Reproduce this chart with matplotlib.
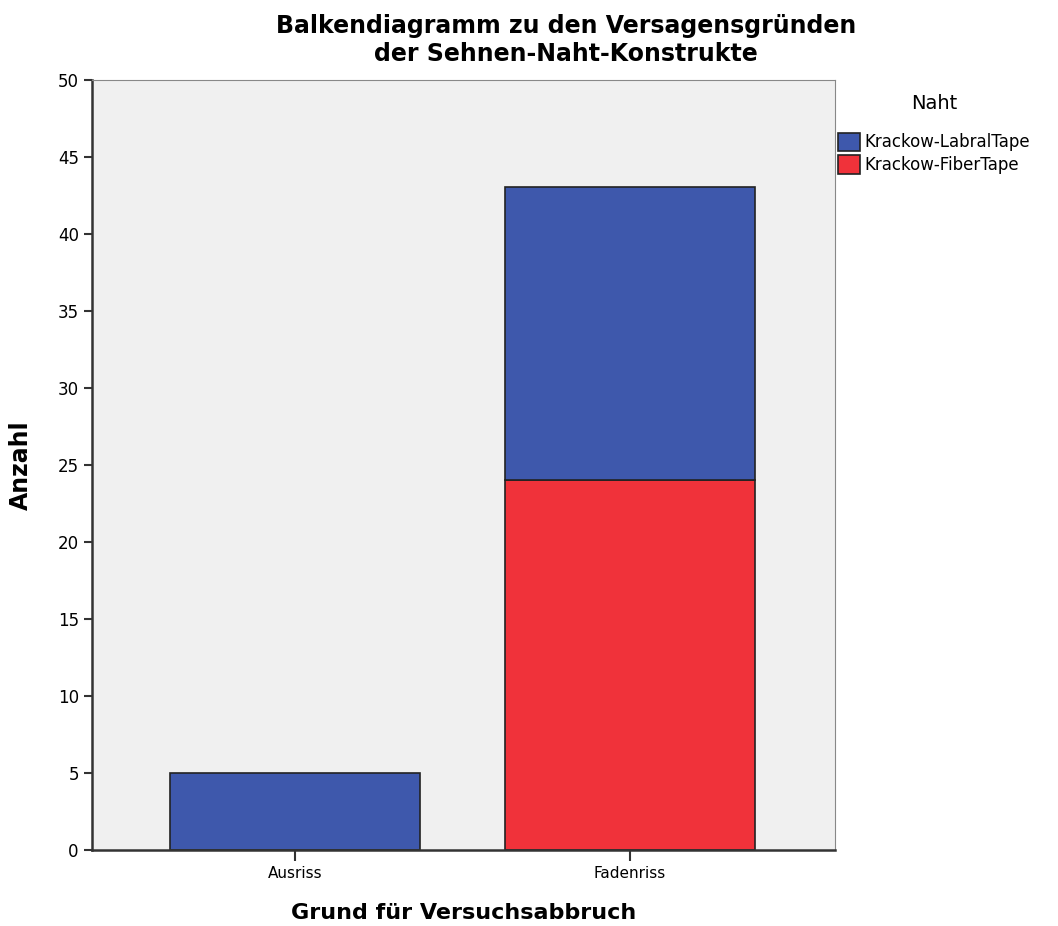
import matplotlib.pyplot as plt

plt.rcParams['font.family'] = ['DejaVu Sans']

# Daten
gruende = ['Ausriss', 'Fadenriss']
labral_tape = [5, 19]
fiber_tape = [0, 24]

fig = plt.figure(figsize=(10.58, 9.26), dpi=100)
ax = fig.add_axes([0.087, 0.082, 0.702, 0.832])
ax.set_facecolor('#f0f0f0')

x = range(len(gruende))
ax.bar(x, fiber_tape, width=0.746, color='#f0323a', edgecolor='#222222',
       linewidth=1.2, label='Krackow-FiberTape', zorder=2)
ax.bar(x, labral_tape, width=0.746, bottom=fiber_tape, color='#3e58ac',
       edgecolor='#222222', linewidth=1.2, label='Krackow-LabralTape', zorder=2)

ax.set_xlim(-0.606, 1.612)
ax.set_ylim(0, 50)
ax.set_yticks(range(0, 51, 5))
ax.set_xticks(list(x))
ax.set_xticklabels(gruende, fontsize=11)
ax.tick_params(axis='y', labelsize=12, length=6, width=1.5, color='#333333')
ax.tick_params(axis='x', length=8, width=1.5, color='#333333')
for s in ax.spines.values():
    s.set_color('#888888')
ax.spines['left'].set_color('#333333')
ax.spines['left'].set_linewidth(1.8)
ax.spines['bottom'].set_color('#333333')
ax.spines['bottom'].set_linewidth(1.8)

ax.set_ylabel('Anzahl', fontsize=17, fontweight='bold', labelpad=18)
ax.set_xlabel('Grund für Versuchsabbruch', fontsize=16, fontweight='bold', labelpad=16)
fig.text(0.535, 0.985, 'Balkendiagramm zu den Versagensgründen\nder Sehnen-Naht-Konstrukte',
         ha='center', va='top', fontsize=17, fontweight='bold', linespacing=1.2)

handles, labels = ax.get_legend_handles_labels()
leg = fig.legend(handles[::-1], labels[::-1], title='Naht', loc='upper left',
                 bbox_to_anchor=(0.789, 0.902), frameon=False, fontsize=12,
                 title_fontsize=14, handlelength=1.3, handleheight=1.3,
                 handletextpad=0.3, labelspacing=0.25, borderpad=0.2,
                 borderaxespad=0)
leg._legend_box.sep = 14

fig.savefig('out.png', dpi=100)
